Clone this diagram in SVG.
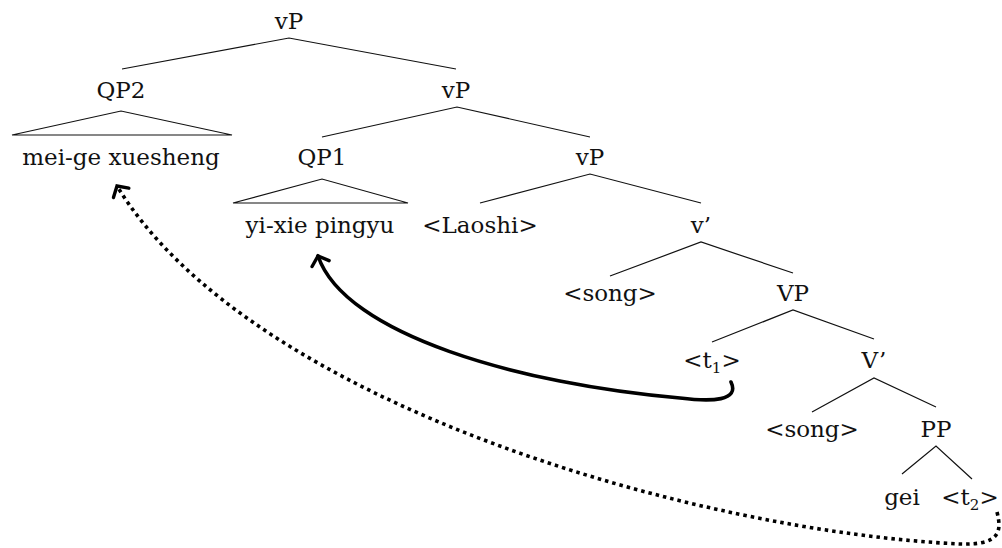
<svg xmlns="http://www.w3.org/2000/svg" width="1002" height="548" viewBox="0 0 1002 548">
  <style>
    .lbl { font-family: "DejaVu Serif", "Liberation Serif", serif; font-size: 23px; fill: #111; text-anchor: middle; }
    .sub { font-size: 15px; }
    .edge { stroke: #111; stroke-width: 1.2; fill: none; }
    .move { stroke: #000; stroke-width: 3.6; fill: none; stroke-linecap: round; }
    .dotted { stroke-dasharray: 3.5 4; stroke-linecap: butt; }
  </style>
  <defs>
    <marker id="chev" markerUnits="userSpaceOnUse" markerWidth="30" markerHeight="30" viewBox="-15 -15 30 30" refX="0" refY="0" orient="auto">
      <path d="M -8 -9 L 0 0 L -8 9" stroke="#000" stroke-width="3.4" fill="none" stroke-linecap="round" stroke-linejoin="miter"/>
    </marker>
  </defs>
  <rect width="1002" height="548" fill="#fff"/>

  <!-- tree branches -->
  <g id="connectors">
    <path class="edge" d="M 122 69 L 289 38 L 456 69"/>
    <path class="edge" d="M 12 135 L 121 111 L 232 135 Z"/>
    <path class="edge" d="M 322 137 L 457 107 L 590 137"/>
    <path class="edge" d="M 233 203 L 322 179 L 408 203 Z"/>
    <path class="edge" d="M 480 203 L 590 174 L 701 203"/>
    <path class="edge" d="M 610 276 L 701 242 L 793 273"/>
    <path class="edge" d="M 712 342 L 793 310 L 874 339"/>
    <path class="edge" d="M 812 412 L 874 378 L 936 407"/>
    <path class="edge" d="M 902 474 L 936 446 L 972 479"/>
    <!-- movement arrows -->
    <path id="move-qp1" class="move" marker-end="url(#chev)" d="M 731 382 C 740 401 712 402 680 398 C 520 384 345 335 318 256"/>
    <path id="move-qp2" class="move dotted" marker-end="url(#chev)" d="M 997 512 C 1002 532 1000 545 960 544 C 700 532 250 405 117 186"/>
  </g>

  <g id="n-vP-top"><text class="lbl" x="289" y="29">vP</text></g>
  <g id="n-QP2"><text class="lbl" x="121" y="98">QP2</text></g>
  <g id="n-vP-2"><text class="lbl" x="456" y="98">vP</text></g>
  <g id="n-mei-ge"><text class="lbl" x="121" y="165">mei-ge xuesheng</text></g>
  <g id="n-QP1"><text class="lbl" x="322" y="165">QP1</text></g>
  <g id="n-vP-3"><text class="lbl" x="590" y="165">vP</text></g>
  <g id="n-yi-xie"><text class="lbl" x="320" y="233">yi-xie pingyu</text></g>
  <g id="n-Laoshi"><text class="lbl" x="480" y="233">&lt;Laoshi&gt;</text></g>
  <g id="n-vbar"><text class="lbl" x="701" y="233">v’</text></g>
  <g id="n-song-1"><text class="lbl" x="610" y="301">&lt;song&gt;</text></g>
  <g id="n-VP"><text class="lbl" x="793" y="301">VP</text></g>
  <g id="n-t1"><text class="lbl" x="712" y="368">&lt;t<tspan class="sub" dy="5">1</tspan><tspan dy="-5">&gt;</tspan></text></g>
  <g id="n-Vbar"><text class="lbl" x="874" y="368">V’</text></g>
  <g id="n-song-2"><text class="lbl" x="812" y="437">&lt;song&gt;</text></g>
  <g id="n-PP"><text class="lbl" x="936" y="437">PP</text></g>
  <g id="n-gei"><text class="lbl" x="902" y="505">gei</text></g>
  <g id="n-t2"><text class="lbl" x="970" y="505">&lt;t<tspan class="sub" dy="5">2</tspan><tspan dy="-5">&gt;</tspan></text></g>
</svg>
